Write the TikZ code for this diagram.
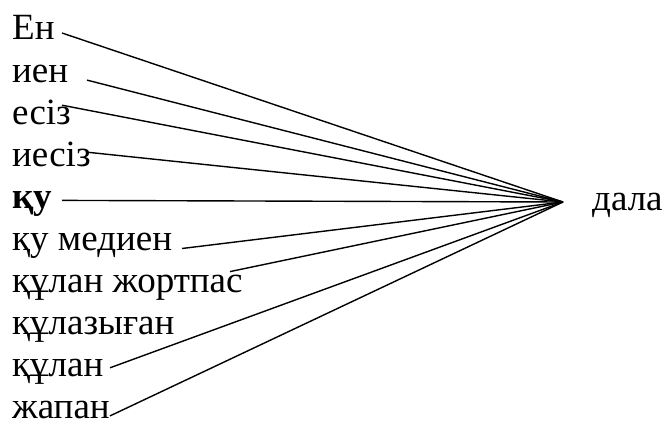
\documentclass[tikz,border=0pt]{standalone}
\usepackage{fontspec}
\setmainfont{Liberation Serif}
\newfontfamily\kzserif{Liberation Serif}
\usetikzlibrary{positioning}
\tikzset{
  word/.style={anchor=base west,inner sep=0pt,font=\kzserif\fontsize{37}{44}\selectfont},
  link/.style={draw=black,line width=1.4pt},
}
\begin{document}
\begin{tikzpicture}[x=1pt,y=-1pt]
  \useasboundingbox (0,0) rectangle (664,425);
  \coordinate (hub) at (563,202);
  \node[word] (goal) at (592,210) {дала};
  % words on the left
  \foreach \w [count=\k] in {Ен,иен,есіз,иесіз,\textbf{қу},қу медиен,құлан жортпас,құлазыған,құлан,жапан}
    \node[word] (w\k) at (12,{40+42.1*(\k-1)}) {\w};
  % lines to the hub
  \foreach \k/\dx/\dy in {1/50/-7,2/75/-2,3/50/-19,4/76/-14,5/50/-8,6/170/-2,7/218/-21,9/98/-9,10/98/-3}
    \draw[link] ([shift={(\dx,\dy)}]w\k.base west) -- (hub);
\end{tikzpicture}
\end{document}
